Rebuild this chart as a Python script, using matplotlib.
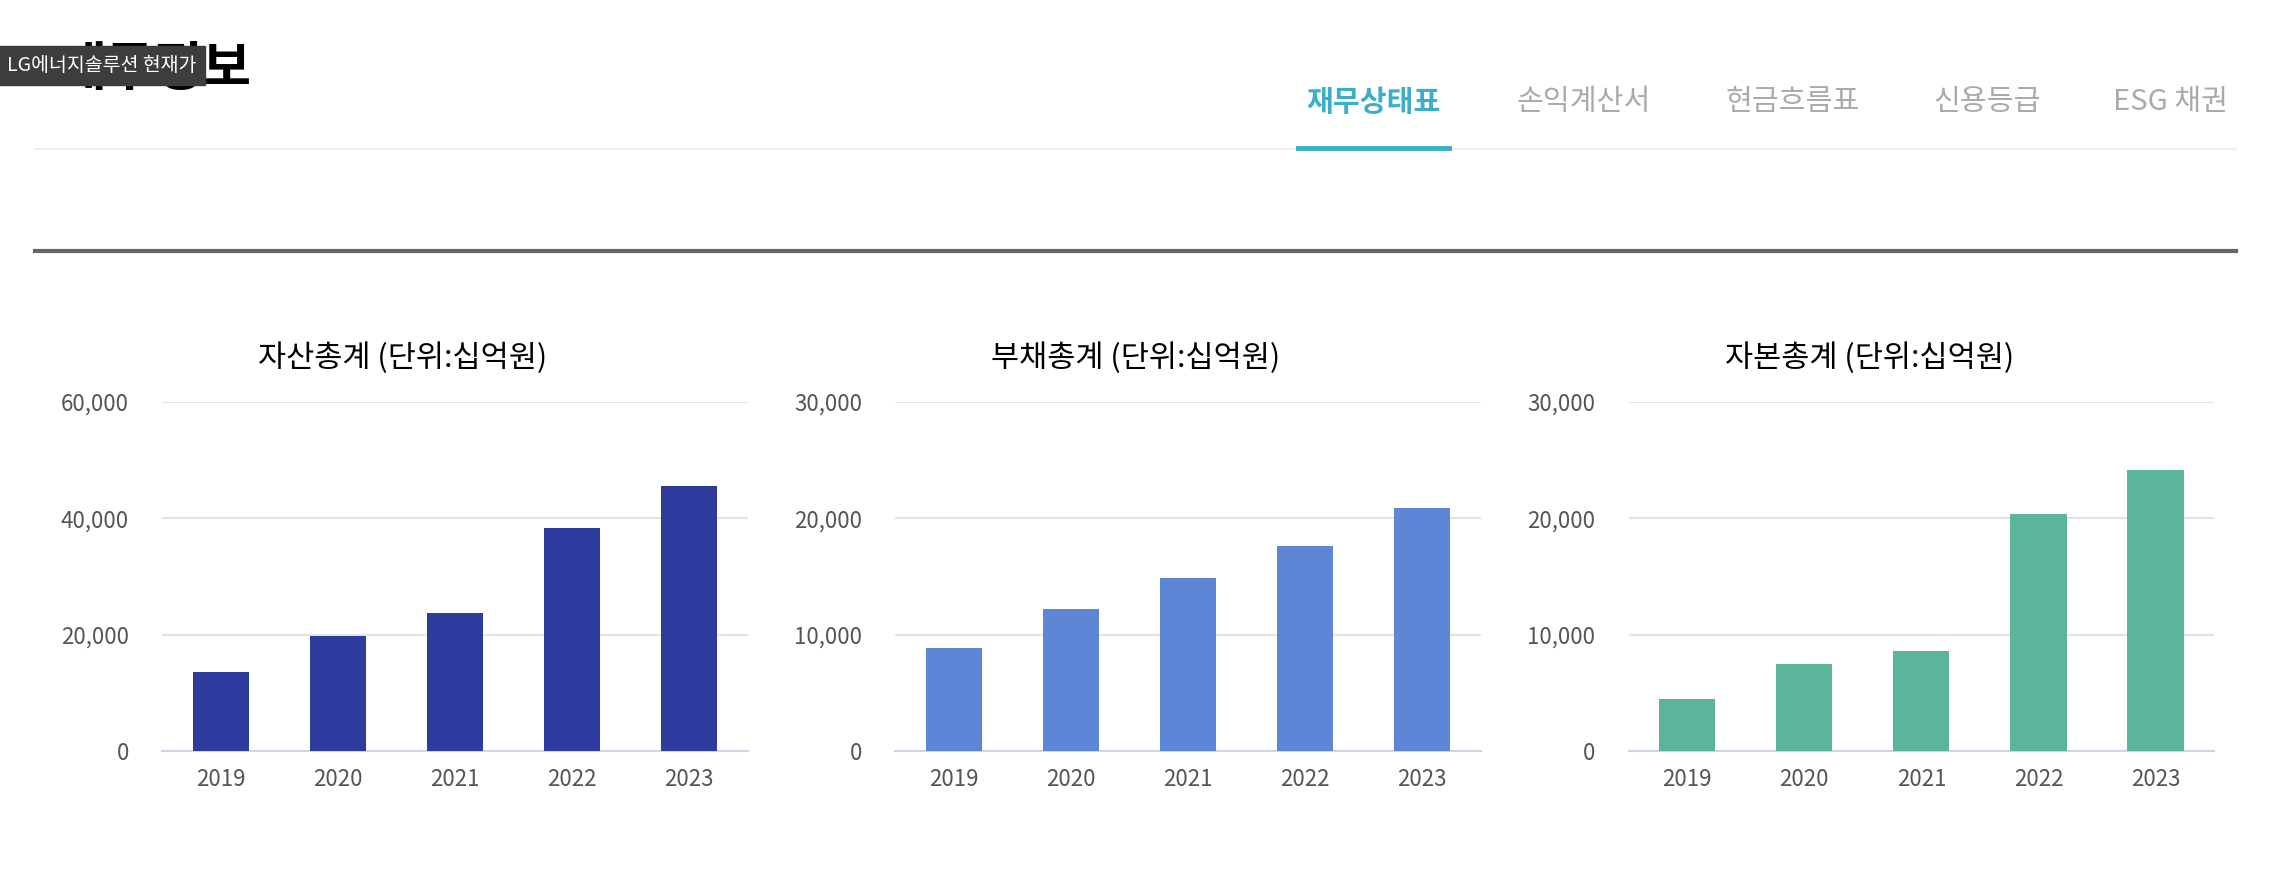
import matplotlib.pyplot as plt
from matplotlib.lines import Line2D

plt.rcParams['font.family'] = ['Noto Sans CJK KR', 'DejaVu Sans']

years = ["2019", "2020", "2021", "2022", "2023"]
assets = [13560, 19800, 23650, 38260, 45560]
liabilities = [8875, 12250, 14875, 17625, 20875]
equity = [4500, 7500, 8625, 20375, 24125]

titles = ["자산총계 (단위:십억원)", "부채총계 (단위:십억원)", "자본총계 (단위:십억원)"]
series = [assets, liabilities, equity]
ymaxes = [60000, 30000, 30000]
colors = ["#2e3b9e", "#5d86d6", "#5ab59a"]
tabs = ["재무상태표", "손익계산서", "현금흐름표", "신용등급", "ESG 채권"]

W, H = 1568, 604  # layout in screenshot pixel units
fig = plt.figure(figsize=(22.72, 8.76), dpi=100)

def fx(x): return x / W
def fy(y): return 1 - y / H

# header (tooltip covers part of the page title, as in the screenshot)
fig.text(fx(40), fy(48), "재무정보", fontsize=38, fontweight='bold', va='center', ha='left')
fig.text(fx(5), fy(45), "LG에너지솔루션 현재가", fontsize=14, color='white', va='center', ha='left',
         bbox=dict(boxstyle='square,pad=0.45', fc='#3d3d3d', ec='#3d3d3d'))
tab_x = [948, 1093, 1237, 1371, 1498]
for i, (t, x) in enumerate(zip(tabs, tab_x)):
    fig.text(fx(x), fy(70), t, fontsize=21, ha='center', va='center',
             color='#3bafc9' if i == 0 else '#aaaaaa', fontweight='bold' if i == 0 else 'normal')
fig.add_artist(Line2D([fx(24), fx(1543)], [fy(103), fy(103)], color='#eeeeee', lw=1.5))
fig.add_artist(Line2D([fx(896), fx(1000)], [fy(102), fy(102)], color='#3bafc9', lw=3.5))
fig.add_artist(Line2D([fx(24), fx(1543)], [fy(173), fy(173)], color='#666666', lw=3))

lefts = [112, 618, 1124]
for left, title, vals, ymax, c in zip(lefts, titles, series, ymaxes, colors):
    ax = fig.add_axes([fx(left), fy(518), 404 / W, (518 - 277) / H])
    ax.bar(range(len(years)), vals, width=0.48, color=c, zorder=3)
    ax.set_xlim(-0.5, 4.5)
    ax.set_ylim(0, ymax)
    ticks = [0, ymax / 3, 2 * ymax / 3, ymax]
    ax.set_yticks(ticks)
    ax.set_yticklabels([f"{int(t):,}" for t in ticks])
    ax.set_xticks(range(len(years)))
    ax.set_xticklabels(years)
    ax.grid(axis='y', color='#e3e3e3', lw=1.5, zorder=0)
    for s in ['top', 'right', 'left']:
        ax.spines[s].set_visible(False)
    ax.spines['bottom'].set_color('#cdd6e8')
    ax.spines['bottom'].set_linewidth(1.5)
    ax.tick_params(length=0, labelsize=16, colors='#555555', pad=12)
    ax.tick_params(axis='y', pad=24)
    fig.text(fx(left + 166), fy(247), title, fontsize=22, ha='center', va='center', color='black')

fig.savefig("out.png", dpi=100, facecolor='white')
